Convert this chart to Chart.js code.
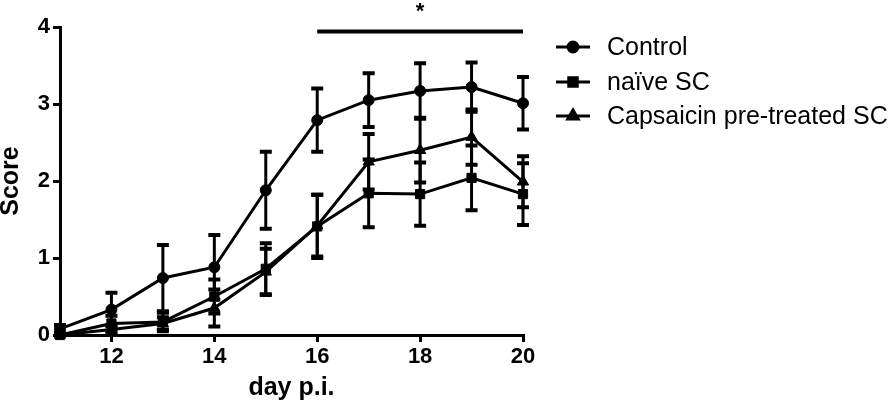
<!DOCTYPE html>
<html><head><meta charset="utf-8">
<script src="https://cdn.jsdelivr.net/npm/chart.js@4.4.1/dist/chart.umd.min.js"></script>
<style>html,body{margin:0;padding:0;background:#fff;}#wrap{width:896px;height:410px;}</style>
</head><body><div id="wrap"><canvas id="c" width="896" height="410"></canvas></div>
<script>
const days = [11,12,13,14,15,16,17,18,19,20];
const seriesNames = ['Control','naïve SC','Capsaicin pre-treated SC'];
const controlMean = [0.08,0.33,0.74,0.88,1.88,2.79,3.05,3.17,3.22,3.01];
const controlSem  = [0.05,0.22,0.43,0.42,0.50,0.41,0.35,0.36,0.32,0.34];
const naiveMean   = [0.00,0.15,0.17,0.50,0.86,1.41,1.84,1.83,2.04,1.83];
const naiveSem    = [0.00,0.10,0.12,0.22,0.33,0.41,0.44,0.41,0.42,0.40];
const capsMean    = [0.00,0.07,0.15,0.35,0.82,1.42,2.25,2.40,2.57,1.99];
const capsSem     = [0.00,0.06,0.08,0.24,0.30,0.40,0.36,0.42,0.36,0.33];
const xTicks = [12,14,16,18,20];
const yTicks = [0,1,2,3,4];
const sigRange = [16,20];
const sigLevel = 3.94;
const sigLabel = '*';
const xTitle = 'day p.i.';
const yTitle = 'Score';

const FONT = "'Liberation Sans', Arial, sans-serif";
const styles = [
  {pointStyle:'circle', radius:5.5},
  {pointStyle:'rect', radius:6.5},
  {pointStyle:'triangle', radius:6.5}
];
const means = [controlMean, naiveMean, capsMean];
const sems = [controlSem, naiveSem, capsSem];

const datasets = means.map((m,k)=>({
  label: seriesNames[k],
  data: days.map((d,i)=>({x:d, y:m[i]})),
  borderColor:'#000', backgroundColor:'#000', borderWidth:3,
  pointStyle: styles[k].pointStyle, pointRadius: styles[k].radius,
  pointBorderWidth:1, pointBorderColor:'#000', pointBackgroundColor:'#000',
  tension:0, clip:false, errs: sems[k]
}));

const errorBars = {
  id:'errorBars',
  afterDatasetsDraw(chart){
    const {ctx, scales:{x,y}} = chart;
    ctx.save();
    ctx.strokeStyle='#000';
    chart.data.datasets.forEach(ds=>{
      ds.data.forEach((p,i)=>{
        const e = ds.errs[i];
        if(!e) return;
        const px = x.getPixelForValue(p.x);
        const yt = y.getPixelForValue(p.y+e);
        const yb = y.getPixelForValue(Math.max(0,p.y-e));
        ctx.lineWidth=3;
        ctx.beginPath(); ctx.moveTo(px,yt); ctx.lineTo(px,yb); ctx.stroke();
        ctx.lineWidth=4;
        ctx.beginPath(); ctx.moveTo(px-6,yt); ctx.lineTo(px+6,yt);
        if(p.y-e>0){ctx.moveTo(px-6,yb); ctx.lineTo(px+6,yb);}
        ctx.stroke();
      });
    });
    ctx.restore();
  }
};

const extras = {
  id:'extras',
  afterDraw(chart){
    const {ctx, scales:{x,y}} = chart;
    ctx.save();
    // significance bar
    ctx.strokeStyle='#000'; ctx.lineWidth=4;
    const sy = y.getPixelForValue(sigLevel);
    ctx.beginPath(); ctx.moveTo(x.getPixelForValue(sigRange[0]), sy); ctx.lineTo(x.getPixelForValue(sigRange[1]), sy); ctx.stroke();
    ctx.fillStyle='#000'; ctx.font='bold 22px '+FONT; ctx.textAlign='center'; ctx.textBaseline='top';
    ctx.fillText(sigLabel, x.getPixelForValue((sigRange[0]+sigRange[1])/2), 1);
    // legend
    const rowY=[47,82,116];
    ctx.textAlign='left'; ctx.textBaseline='middle'; ctx.font='25px '+FONT;
    seriesNames.forEach((n,k)=>{
      const yy=rowY[k];
      ctx.lineWidth=3; ctx.beginPath(); ctx.moveTo(556,yy); ctx.lineTo(590,yy); ctx.stroke();
      Chart.helpers.drawPoint(ctx,{pointStyle:styles[k].pointStyle, radius:styles[k].radius-0.5, borderWidth:1}, 573, yy);
      ctx.fillStyle='#000'; ctx.fillText(n, 607, yy+1);
    });
    ctx.restore();
  }
};

const axisCommon = {
  grid:{drawOnChartArea:false, drawTicks:true, tickLength:7, color:'#000', lineWidth:3},
  border:{color:'#000', width:3},
};

new Chart(document.getElementById('c'), {
  type:'line',
  data:{datasets},
  options:{
    responsive:false, animation:false, devicePixelRatio:1,
    layout:{padding:{left:0, top:27, right:373, bottom:0}},
    plugins:{legend:{display:false}, tooltip:{enabled:false}},
    scales:{
      x:{type:'linear', min:11, max:20, ...axisCommon,
        afterBuildTicks:s=>{s.ticks=xTicks.map(v=>({value:v}));},
        afterFit:s=>{s.height=75;},
        ticks:{color:'#000', padding:2, maxRotation:0, font:{family:FONT, size:22, weight:'bold'}},
        title:{display:true, text:xTitle, color:'#000', font:{family:FONT, size:25, weight:'bold'}, padding:{top:0,bottom:7}}
      },
      y:{type:'linear', min:0, max:4, ...axisCommon,
        afterBuildTicks:s=>{s.ticks=yTicks.map(v=>({value:v}));},
        afterFit:s=>{s.width=60;},
        ticks:{color:'#000', padding:3, font:{family:FONT, size:22, weight:'bold'}},
        title:{display:true, text:yTitle, color:'#000', font:{family:FONT, size:25, weight:'bold', lineHeight:0.9}, padding:{top:0,bottom:0}}
      }
    }
  },
  plugins:[errorBars, extras]
});
</script></body></html>
